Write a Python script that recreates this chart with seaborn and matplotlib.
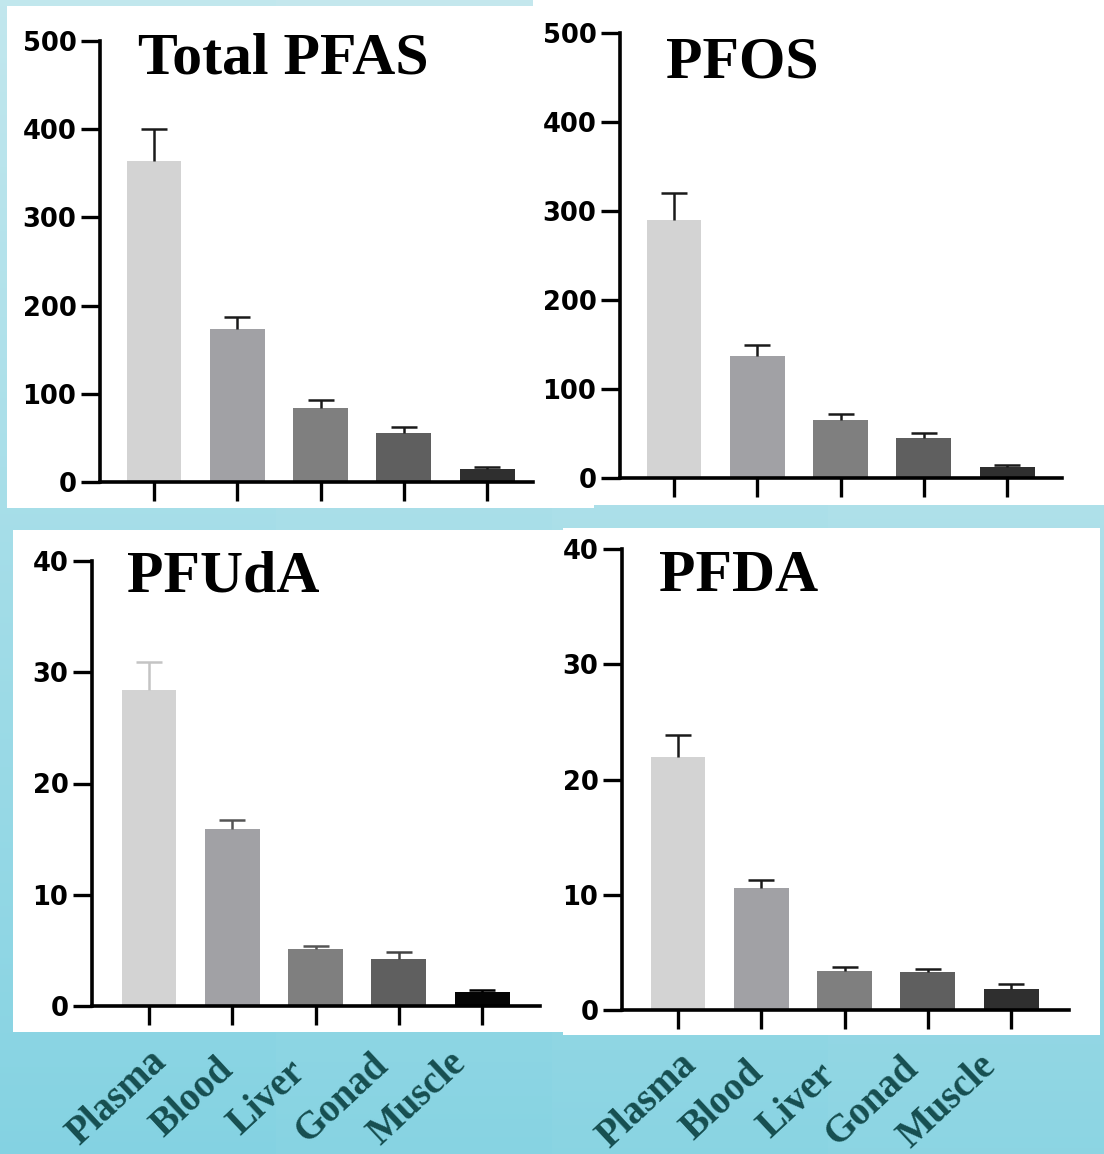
import numpy as np
import pandas as pd
import matplotlib
matplotlib.use("Agg")
import matplotlib.pyplot as plt
import seaborn as sns
from matplotlib.patches import Rectangle

# ---------------- data ----------------
tissues = ["Plasma", "Blood", "Liver", "Gonad", "Muscle"]

total_pfas_mean = [364, 174, 84, 56, 14.4]
total_pfas_err = [36, 13, 9, 6, 2.6]

pfos_mean = [289.5, 137.5, 65.5, 44.5, 12.3]
pfos_err = [30.5, 11.5, 6.5, 6.5, 2.7]

pfuda_mean = [28.4, 15.9, 5.1, 4.26, 1.29]
pfuda_err = [2.5, 0.85, 0.3, 0.55, 0.15]

pfda_mean = [21.96, 10.56, 3.4, 3.3, 1.8]
pfda_err = [1.94, 0.74, 0.3, 0.3, 0.45]

ticks_500 = [0, 100, 200, 300, 400, 500]
ticks_40 = [0, 10, 20, 30, 40]

titles = ["Total PFAS", "PFOS", "PFUdA", "PFDA"]

# ---------------- style ----------------
sns.set_theme(style="ticks")
plt.rcParams["font.family"] = ["DejaVu Sans"]

W, H = 1104, 1154
fig = plt.figure(figsize=(W / 100, H / 100), dpi=100)

# background (gradient + white panels)
bg = fig.add_axes([0, 0, 1, 1])
bg.set_xlim(0, W)
bg.set_ylim(H, 0)
bg.axis("off")
top = np.array([0.79, 0.915, 0.935])
bot = np.array([0.55, 0.835, 0.89])
t = np.linspace(0, 1, 200)[:, None, None]
grad = top * (1 - t) + bot * t
grad = np.repeat(grad, 4, axis=1)
lf = np.linspace(1.0, 0.0, 4)[None, :, None]
grad = grad - 0.03 * lf * np.array([1, 0.3, 0.1])[None, None, :]
bg.imshow(np.clip(grad, 0, 1), extent=[0, W, H, 0], aspect="auto", zorder=0)

for (x0, y0, x1, y1) in [(533, 0, 1104, 505), (7, 6, 594, 508),
                         (13, 530, 563, 1032), (563, 528, 1100, 1035)]:
    bg.add_patch(Rectangle((x0, y0), x1 - x0, y1 - y0, facecolor="white",
                           edgecolor="none", zorder=1))

bar_colors = ["#d3d3d3", "#a1a1a5", "#7f7f7f", "#5f5f5f", "#2f2f2f"]
bar_colors_pfuda = ["#d3d3d3", "#a1a1a5", "#7f7f7f", "#5f5f5f", "#050505"]
dark = ["#1a1a1a"] * 5
pfuda_ecol = ["#c4c4c4", "#555555", "#555555", "#444444", "#000000"]

SPACING = 83.3  # px between bar centres


def panel(rect, c0, means, errs, ymax, yticks, ecolors, cols):
    l, r, t_, b = rect
    ax = fig.add_axes([l / W, 1 - b / H, (r - l) / W, (b - t_) / H])
    ax.set_facecolor("none")
    df = pd.DataFrame({"tissue": tissues, "value": means})
    sns.barplot(data=df, x="tissue", y="value", hue="tissue", palette=cols,
                width=0.66, legend=False, ax=ax, saturation=1, linewidth=0)
    for i in range(len(tissues)):
        cont = ax.errorbar(x=[i], y=[means[i]], yerr=[[0], [errs[i]]],
                           fmt="none", ecolor=ecolors[i], elinewidth=1.8,
                           capsize=9.5, capthick=1.8, zorder=3)
        caps = cont[1]
        if len(caps) > 1:
            caps[0].set_visible(False)  # no cap at the bar top
    ax.set_xlim(-(c0 - l) / SPACING, (r - c0) / SPACING)
    ax.set_ylim(0, ymax)
    ax.set_xticks(range(len(tissues)))
    ax.set_xticklabels([])
    ax.set_yticks(yticks, labels=[str(v) for v in yticks],
                  fontweight="bold", fontsize=18.5)
    ax.set_xlabel("")
    ax.set_ylabel("")
    for s in ["top", "right"]:
        ax.spines[s].set_visible(False)
    for s in ["left", "bottom"]:
        ax.spines[s].set_linewidth(2.6)
        ax.spines[s].set_color("black")
    ax.tick_params(axis="both", length=13.5, width=2.4, color="black",
                   direction="out")
    ax.tick_params(axis="y", pad=3.5, labelcolor="black")
    ax.grid(False)
    return ax


panel((100, 533, 41, 482), 154, total_pfas_mean, total_pfas_err, 500,
      ticks_500, dark, bar_colors)
panel((620, 1062, 33, 478), 674, pfos_mean, pfos_err, 500,
      ticks_500, dark, bar_colors)
panel((92, 540, 561, 1006), 149, pfuda_mean, pfuda_err, 40,
      ticks_40, pfuda_ecol, bar_colors_pfuda)
panel((622, 1069, 549, 1010), 678, pfda_mean, pfda_err, 40,
      ticks_40, dark, bar_colors)

# titles
for txt, (x, y) in zip(titles, [(138, 73), (666, 77), (127, 592), (659, 591)]):
    bg.text(x, y, txt, fontsize=43, fontweight="bold",
            family=["Liberation Serif", "DejaVu Serif"], color="black",
            ha="left", va="baseline", zorder=5)

# rotated tissue labels along the bottom band
for start, y in [(114, 1095), (644, 1098)]:
    for i, name in enumerate(tissues):
        bg.text(start + i * 75, y, name, rotation=43, rotation_mode="anchor",
                ha="center", va="center_baseline", fontsize=28,
                fontweight="bold",
                family=["Liberation Serif", "DejaVu Serif"],
                color="#164e50", zorder=5)

fig.savefig("out.png", dpi=100)
